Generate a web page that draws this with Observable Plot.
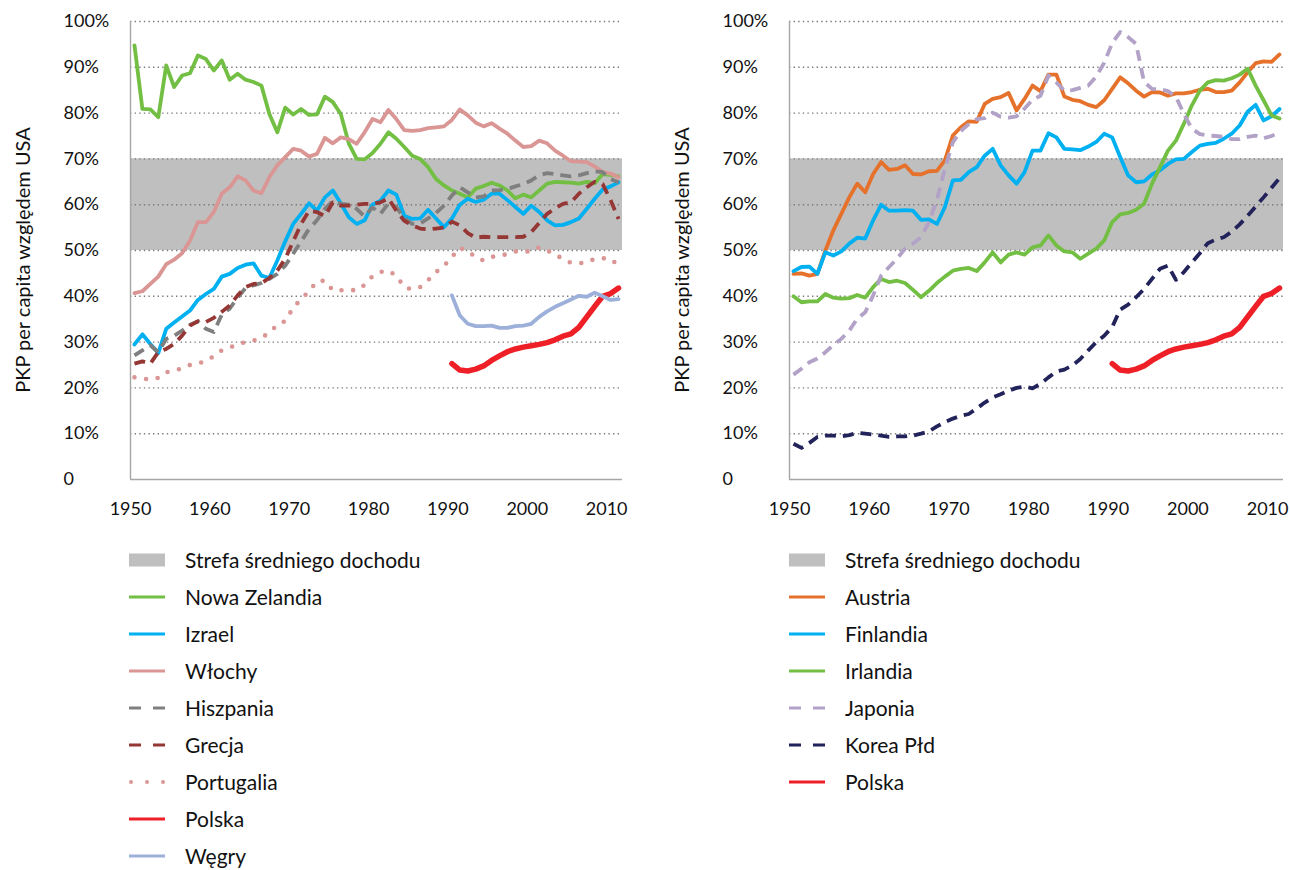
<!DOCTYPE html>
<html><head><meta charset="utf-8">
<script src="https://cdn.jsdelivr.net/npm/d3@7"></script>
<script src="https://cdn.jsdelivr.net/npm/@observablehq/plot@0.6"></script>
<style>
body{margin:0;background:#fff;font-family:Lato,sans-serif;}
#root{position:relative;width:1290px;height:870px;overflow:hidden;background:#fff;}
.panel{position:absolute;top:0;}
.ylab{position:absolute;font-size:20px;color:#111;white-space:nowrap;transform:translate(-50%,-50%) rotate(-90deg);}
.row{position:absolute;display:flex;align-items:center;height:28px;font-size:21px;line-height:24px;color:#111;white-space:nowrap;}
.row svg{margin-right:19px;flex:none;}
</style></head><body><div id="root"></div><script>
// ---------- data ----------
const years = d3.range(1950, 2012);           // 1950..2011
const xTicks = d3.range(1950, 2011, 10);
const yTicks = d3.range(0, 101, 10);
const bandLow = 50, bandHigh = 70;
const yLabel = "PKP per capita względem USA";
const bandLabel = "Strefa średniego dochodu";
const polskaStart = 1990, wegryStart = 1990;

// left panel
const nowaZelandia = [94.8,80.9,80.8,79.1,90.4,85.7,88.2,88.7,92.6,91.8, 89.3,91.5,87.3,88.6,87.3,86.8,86.0,79.8,75.8,81.2, 79.7,80.9,79.6,79.7,83.6,82.4,79.8,73.4,70.0,69.9, 71.3,73.3,75.8,74.4,72.6,70.7,70.0,68.2,65.6,64.2, 63.1,62.4,61.6,63.5,64.1,64.8,64.2,63.1,61.4,62.2, 61.6,63.1,64.6,65.0,64.9,64.8,64.6,65.0,64.7,66.7, 66.5,66.2];
const izrael = [29.5,31.7,29.6,27.6,32.9,34.3,35.6,36.9,39.2,40.5, 41.6,44.3,44.9,46.2,46.9,47.2,44.5,44.0,47.8,52.0, 55.8,58.0,60.3,58.7,61.6,63.1,60.3,57.3,55.8,56.6, 60.0,60.9,63.1,62.2,57.6,56.9,57.0,58.9,57.0,55.1, 57.0,60.0,61.3,60.6,61.1,62.4,62.4,61.0,59.5,58.0, 59.8,58.4,56.6,55.5,55.6,56.2,57.0,59.1,61.3,63.3, 64.0,64.9];
const wlochy = [40.7,41.1,42.7,44.3,47.0,48.0,49.4,52.2,56.2,56.2, 58.4,62.4,63.8,66.2,65.3,63.1,62.5,66.0,68.6,70.4, 72.2,71.8,70.5,71.1,74.6,73.4,74.7,74.3,73.3,75.8, 78.7,78.0,80.7,78.7,76.3,76.1,76.3,76.7,76.9,77.1, 78.5,80.8,79.5,77.9,77.1,77.8,76.6,75.5,74.0,72.6, 72.8,74.0,73.4,71.8,70.7,69.5,69.4,69.3,68.3,67.1, 66.8,66.0];
const hiszpania = [27.1,28.2,29.3,27.8,30.7,31.4,32.5,33.8,34.5,32.9, 32.2,36.0,37.3,39.7,41.8,42.4,42.9,43.8,44.9,46.7, 49.3,52.0,54.7,56.6,59.1,60.8,60.2,60.0,59.1,57.4, 59.4,58.0,60.3,59.5,57.0,55.8,55.9,57.0,58.2,59.8, 62.0,63.8,62.7,61.6,61.8,63.1,63.2,63.4,64.0,64.5, 65.3,66.4,66.9,66.7,66.4,66.2,66.4,66.9,67.3,67.1, 65.6,64.9];
const grecja = [25.3,25.8,25.3,27.8,28.5,29.6,31.4,33.6,34.6,34.4, 35.3,36.6,38.0,40.2,42.0,42.7,42.9,44.0,45.6,48.2, 52.0,55.8,58.7,58.4,57.5,60.5,59.8,59.8,60.0,60.2, 60.2,60.5,61.4,58.7,56.5,55.5,54.8,54.6,54.8,55.0, 56.3,55.5,53.8,52.8,53.0,52.9,52.9,52.9,52.9,53.0, 54.0,56.0,58.0,59.2,60.2,60.5,62.4,63.8,65.0,64.5, 61.0,56.9];
const portugalia = [22.3,22.0,21.9,22.2,23.4,23.9,24.2,25.0,25.3,25.9, 26.9,28.2,28.8,29.5,30.0,30.3,31.0,32.0,33.8,34.6, 37.5,39.4,41.1,43.3,43.4,41.3,41.3,41.4,41.3,42.5, 44.4,45.3,45.6,44.5,42.0,41.5,42.0,43.5,45.3,46.6, 48.6,50.6,49.9,48.5,47.8,48.6,48.9,49.2,49.8,49.8, 49.8,50.7,50.0,49.2,48.1,47.3,47.2,47.4,48.2,48.3, 48.2,46.7];
const polska = [25.3,23.9,23.7,24.1,24.8,26.0,27.0,27.9,28.5,28.9, 29.2,29.5,29.9,30.5,31.3,31.8,33.2,35.5,37.8,40.0, 40.6,41.8];
const wegry = [40.2,35.8,34.0,33.5,33.5,33.6,33.1,33.1,33.5,33.6, 34.0,35.5,36.7,37.7,38.5,39.3,40.1,39.9,40.8,40.0, 39.2,39.4];

// right panel
const austria = [44.9,45.0,44.5,44.9,50.0,54.4,58.0,61.6,64.6,62.7, 66.7,69.3,67.6,67.8,68.6,66.7,66.6,67.3,67.4,69.7, 75.1,76.9,78.2,78.1,82.0,83.1,83.5,84.4,80.6,83.1, 86.0,84.8,88.4,88.4,83.6,82.9,82.6,81.8,81.3,82.8, 85.3,87.8,86.5,84.9,83.6,84.6,84.5,83.8,84.3,84.3, 84.6,85.1,85.3,84.6,84.6,84.9,86.7,88.9,90.9,91.3, 91.2,92.8];
const finlandia = [45.5,46.4,46.5,44.9,49.6,48.9,49.8,51.5,52.8,52.6, 56.6,60.0,58.7,58.7,58.8,58.7,56.7,56.8,55.8,59.5, 65.3,65.4,67.1,68.2,70.7,72.2,68.6,66.4,64.6,67.1, 71.8,71.8,75.6,74.7,72.2,72.1,71.9,72.7,73.7,75.5, 74.7,70.4,66.4,64.9,65.1,66.6,67.5,68.9,69.9,70.0, 71.5,72.9,73.3,73.5,74.4,75.5,77.3,80.3,81.8,78.4, 79.3,80.9];
const irlandia = [40.0,38.7,38.9,38.9,40.5,39.7,39.5,39.6,40.3,39.7, 42.0,43.8,43.1,43.4,42.9,41.4,39.8,41.2,42.9,44.3, 45.6,46.0,46.2,45.5,47.4,49.6,47.4,49.1,49.6,49.1, 50.7,51.1,53.3,51.1,49.8,49.6,48.2,49.3,50.4,52.2, 56.2,57.9,58.2,58.9,60.2,64.6,68.2,71.8,74.0,77.7, 81.7,84.9,86.7,87.2,87.1,87.6,88.4,89.7,86.0,82.8, 79.5,78.8];
const japonia = [22.9,24.2,25.6,26.4,27.8,29.3,30.7,32.5,35.1,36.5, 40.2,44.5,46.4,48.2,50.4,51.5,52.9,56.2,61.0,67.9, 73.6,76.1,77.6,78.7,78.9,80.1,79.2,79.0,79.3,81.0, 82.9,83.8,88.2,86.7,84.9,85.0,85.5,86.0,88.0,91.0, 95.3,97.7,96.6,95.1,86.8,85.3,85.2,84.8,83.6,79.8, 76.6,75.4,75.1,75.0,74.8,74.3,74.3,74.8,75.1,74.5, 75.0,75.8];
const koreaPld = [7.8,6.9,8.0,9.3,9.6,9.6,9.4,9.7,10.2,10.0, 9.8,9.6,9.3,9.4,9.4,9.6,10.0,10.5,11.6,12.5, 13.3,13.9,14.3,15.5,16.8,17.9,18.6,19.4,20.0,20.3, 19.9,20.9,22.3,23.6,24.0,24.9,26.3,28.2,30.0,31.4, 33.3,37.1,38.2,39.8,41.6,43.8,46.0,46.7,43.6,45.3, 47.4,49.4,51.6,52.4,52.9,54.1,55.7,57.6,59.6,61.6, 63.7,65.8];

// ---------- styles ----------
const DASH = "11,7";
const W = 3.8;
const styles = {
  "Nowa Zelandia": {stroke: "#72bf44", strokeWidth: W},
  "Izrael": {stroke: "#00b0f0", strokeWidth: W},
  "Włochy": {stroke: "#da9694", strokeWidth: W},
  "Hiszpania": {stroke: "#7f7f7f", strokeWidth: W, strokeDasharray: DASH, strokeLinecap: "butt"},
  "Grecja": {stroke: "#953735", strokeWidth: W, strokeDasharray: DASH, strokeLinecap: "butt"},
  "Portugalia": {stroke: "#da9694", strokeWidth: 4.6, strokeDasharray: "0,11.7", strokeLinecap: "round"},
  "Polska": {stroke: "#ee1f26", strokeWidth: 5.5},
  "Węgry": {stroke: "#9db0da", strokeWidth: W},
  "Austria": {stroke: "#e6712a", strokeWidth: W},
  "Finlandia": {stroke: "#00b0f0", strokeWidth: W},
  "Irlandia": {stroke: "#72bf44", strokeWidth: W},
  "Japonia": {stroke: "#b3a2c7", strokeWidth: W, strokeDasharray: DASH, strokeLinecap: "butt"},
  "Korea Płd": {stroke: "#23235b", strokeWidth: W, strokeDasharray: DASH, strokeLinecap: "butt"}
};
const legendDash = {"Hiszpania": "12,12", "Grecja": "12,12", "Japonia": "12,12", "Korea Płd": "12,12", "Portugalia": "0,16"};

function rows(name, values, start = 1950) {
  return values.map((v, i) => ({year: start + i, value: v, name}));
}

const leftSeries = [
  ["Nowa Zelandia", rows("Nowa Zelandia", nowaZelandia)],
  ["Izrael", rows("Izrael", izrael)],
  ["Włochy", rows("Włochy", wlochy)],
  ["Hiszpania", rows("Hiszpania", hiszpania)],
  ["Grecja", rows("Grecja", grecja)],
  ["Portugalia", rows("Portugalia", portugalia)],
  ["Polska", rows("Polska", polska, polskaStart)],
  ["Węgry", rows("Węgry", wegry, wegryStart)]
];
const rightSeries = [
  ["Austria", rows("Austria", austria)],
  ["Finlandia", rows("Finlandia", finlandia)],
  ["Irlandia", rows("Irlandia", irlandia)],
  ["Japonia", rows("Japonia", japonia)],
  ["Korea Płd", rows("Korea Płd", koreaPld)],
  ["Polska", rows("Polska", polska, polskaStart)]
];

// categories sit between tick marks: year Y occupies [Y-0.5, Y+0.5]; labels sit on the left tick
const xDomain = [years[0] - 0.5, years[years.length - 1] + 0.5];

function panel(series, {width, marginLeft, marginRight}) {
  const height = 530, marginTop = 21, marginBottom = 51;
  return Plot.plot({
    width, height, marginLeft, marginRight, marginTop, marginBottom,
    x: {domain: xDomain},
    y: {domain: [0, 100]},
    style: {fontFamily: "Lato, sans-serif", fontSize: "18px", color: "#111", background: "transparent", overflow: "visible"},
    marks: [
      Plot.rect([{x1: xDomain[0], x2: xDomain[1], y1: bandLow, y2: bandHigh}], {x1: "x1", x2: "x2", y1: "y1", y2: "y2", fill: "#bfbfbf"}),
      Plot.ruleY(yTicks.filter(d => d > 0), {stroke: "#7a7a7a", strokeWidth: 1.4, strokeDasharray: "1.4,3.2"}),
      Plot.ruleY([0], {stroke: "#a6a6a6", strokeWidth: 1.4}),
      Plot.ruleX([xDomain[0]], {stroke: "#a6a6a6", strokeWidth: 1.4}),
      ...series.map(([name, data]) => Plot.line(data, {x: "year", y: "value", strokeLinejoin: "round", strokeLinecap: "round", ...styles[name]})),
      Plot.axisX({ticks: xTicks.map(d => d - 0.5), tickSize: 0, tickPadding: 23, tickFormat: d => String(d + 0.5)}),
      Plot.axisY({ticks: yTicks, tickSize: 0, tickPadding: 67, textAnchor: "start", tickFormat: d => d === 0 ? "0" : d + "%", label: null})
    ]
  });
}

const root = document.getElementById("root");
function place(el, left) { const w = document.createElement("div"); w.className = "panel"; w.style.left = left + "px"; w.appendChild(el); root.appendChild(w); }
place(panel(leftSeries, {width: 640, marginLeft: 130, marginRight: 18}), 0);
place(panel(rightSeries, {width: 630, marginLeft: 130, marginRight: 6}), 659);

function ylab(x) {
  const d = document.createElement("div"); d.className = "ylab"; d.textContent = yLabel;
  d.style.left = x + "px"; d.style.top = "260px"; root.appendChild(d);
}
ylab(22); ylab(681);

function swatch(name) {
  const ns = "http://www.w3.org/2000/svg";
  const s = document.createElementNS(ns, "svg");
  s.setAttribute("width", 37); s.setAttribute("height", 28);
  if (name === null) {
    const r = document.createElementNS(ns, "rect");
    r.setAttribute("x", 0); r.setAttribute("y", 7.5); r.setAttribute("width", 36); r.setAttribute("height", 13); r.setAttribute("fill", "#bfbfbf");
    s.appendChild(r);
  } else {
    const st = styles[name];
    const l = document.createElementNS(ns, "line");
    const dotted = name === "Portugalia";
    l.setAttribute("x1", dotted ? 2 : 0); l.setAttribute("x2", 36);
    l.setAttribute("y1", 14); l.setAttribute("y2", 14);
    l.setAttribute("stroke", st.stroke);
    l.setAttribute("stroke-width", dotted ? 4 : 3);
    if (legendDash[name]) l.setAttribute("stroke-dasharray", legendDash[name]);
    l.setAttribute("stroke-linecap", dotted ? "round" : "butt");
    s.appendChild(l);
  }
  return s;
}
function legend(names, left) {
  const items = [null, ...names];
  items.forEach((name, i) => {
    const r = document.createElement("div"); r.className = "row";
    r.style.left = left + "px"; r.style.top = (560 + 37.0 * i - 14) + "px";
    r.appendChild(swatch(name));
    const t = document.createElement("span"); t.textContent = name === null ? bandLabel : name;
    r.appendChild(t);
    root.appendChild(r);
  });
}
legend(leftSeries.map(d => d[0]), 129);
legend(rightSeries.map(d => d[0]), 789);
</script></body></html>
